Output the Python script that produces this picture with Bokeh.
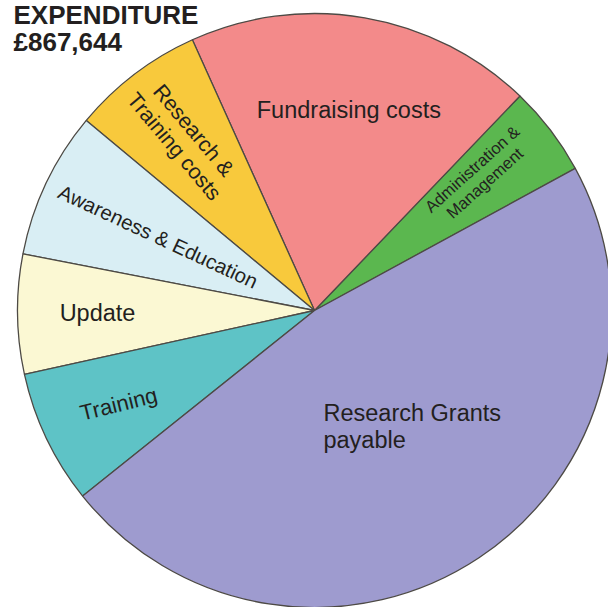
import math
import numpy as np
import pandas as pd
from bokeh.plotting import figure
from bokeh.models import ColumnDataSource, Range1d
from bokeh.core.properties import value
from bokeh.embed import file_html
from bokeh.resources import INLINE

# ---- data (GBP; total £867,644) ----
categories = ["Administration & Management", "Fundraising costs", "Research & Training costs",
              "Awareness & Education", "Update", "Training", "Research Grants payable"]
amounts = [42500, 164000, 62500, 69400, 56400, 63300, 409544]
colors = ["#5BB74F", "#F38A8A", "#F8C93C", "#D9EEF4", "#FBF8D3", "#5EC3C6", "#9E9BCF"]
label_texts = ["Administration &\nManagement", "Fundraising costs", "Research &\nTraining costs",
               "Awareness & Education", "Update", "Training", "Research Grants\npayable"]
title_lines = ["EXPENDITURE", "£867,644"]

# ---- layout / style ----
START_DEG = 28.6
CX, CY, R = 314, 297, 297
label_radius = [212, 203, 216, 173, 217, 217, 155]
label_angle_adj = [2, 0, 0, 0, 0, 0, 8]
label_rot_deg = [42, 0, -50, -25, 0, 14, 0]
label_size = ["16.5px", "23.5px", "21.5px", "20.5px", "23.5px", "22px", "23.5px"]
label_align = ["center", "center", "center", "center", "center", "center", "left"]
FONT = "Liberation Sans"

df = pd.DataFrame({"cat": categories, "amount": amounts, "color": colors})
frac = df["amount"] / df["amount"].sum()
ang = frac * 2 * math.pi
df["start"] = math.radians(START_DEG) + ang.cumsum() - ang
df["end"] = math.radians(START_DEG) + ang.cumsum()
df["mid"] = (df["start"] + df["end"]) / 2

p = figure(width=608, height=607, output_backend="svg", toolbar_location=None,
           x_range=Range1d(0, 608), y_range=Range1d(0, 607), min_border=0)
p.axis.visible = False
p.grid.visible = False
p.outline_line_color = None
p.background_fill_color = "white"
p.border_fill_color = "white"

p.wedge(x=CX, y=CY, radius=R, start_angle="start", end_angle="end",
        fill_color="color", line_color="#4d4a45", line_width=1.3,
        source=ColumnDataSource(df))

lx, ly = [], []
for i, m in enumerate(df["mid"]):
    a = m + math.radians(label_angle_adj[i])
    lx.append(CX + label_radius[i] * math.cos(a))
    ly.append(CY + label_radius[i] * math.sin(a))

for i in range(len(categories)):
    x = lx[i]
    if label_align[i] == "left":
        x = x - 94
    p.text(x=[x], y=[ly[i]], text=[label_texts[i]], angle=[math.radians(label_rot_deg[i])],
           text_font=value(FONT), text_font_size=label_size[i], text_color="#231f20",
           text_align=label_align[i], text_baseline="middle", text_line_height=1.05)

p.text(x=[13, 13], y=[608, 581], text=title_lines, text_font=value(FONT),
       text_font_style="bold", text_font_size="26px", text_color="#231f20",
       text_align="left", text_baseline="top")

open("out.html", "w").write(file_html(p, INLINE))
